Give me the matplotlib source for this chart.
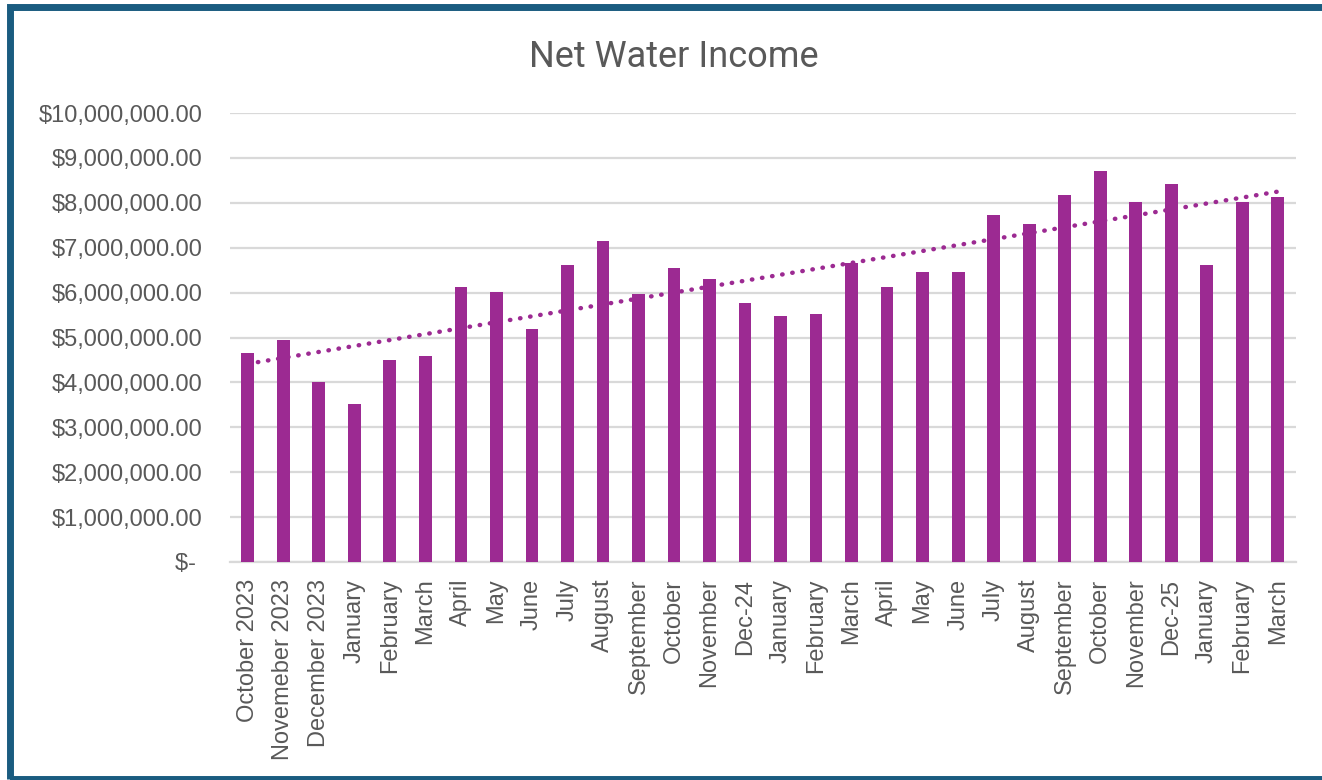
import matplotlib
matplotlib.use('Agg')

import matplotlib.pyplot as plt
import numpy as np
from matplotlib.patches import Rectangle
from matplotlib.ticker import FuncFormatter

months = ["October 2023", "Novemeber 2023", "December 2023", "January", "February", "March",
          "April", "May", "June", "July", "August", "September", "October", "November", "Dec-24",
          "January", "February", "March", "April", "May", "June", "July", "August", "September",
          "October", "November", "Dec-25", "January", "February", "March"]
income = [4.65, 4.95, 4.02, 3.53, 4.50, 4.60, 6.12, 6.02, 5.19, 6.61, 7.14, 5.97, 6.56, 6.31, 5.77,
          5.48, 5.53, 6.66, 6.12, 6.46, 6.46, 7.73, 7.54, 8.17, 8.71, 8.02, 8.42, 6.61, 8.02, 8.12]
income = [v * 1e6 for v in income]

purple = '#9C2A92'
grey = '#595959'

plt.rcParams['font.family'] = ['Liberation Sans', 'DejaVu Sans']

fig = plt.figure(figsize=(13.22, 7.80), dpi=100)
ax = fig.add_axes([0.174, 0.2795, 0.806, 0.5755])

x = np.arange(len(months))
ax.bar(x, income, width=0.36, color=purple, zorder=3)

# linear trendline like excel
k, b = np.polyfit(x, income, 1)
ax.plot(x, k * x + b, color=purple, linestyle=(0, (0.1, 2.2)), linewidth=3.2,
        dash_capstyle='round', zorder=4)

ax.set_xlim(-0.5, len(months) - 0.5)
ax.set_ylim(0, 10e6)
ax.set_yticks(np.arange(0, 10.5e6, 1e6))

def money(v, pos):
    if v == 0:
        return '$- '
    return '${:,.2f}'.format(v)

ax.yaxis.set_major_formatter(FuncFormatter(money))
ax.set_xticks(x)
ax.set_xticklabels(months, rotation=90)
ax.tick_params(axis='both', length=0, labelsize=17, labelcolor=grey)
ax.tick_params(axis='y', pad=20)
ax.tick_params(axis='x', pad=12)

ax.grid(axis='y', color='#d9d9d9', linewidth=1.6, zorder=0)
for s in ['top', 'right', 'left']:
    ax.spines[s].set_visible(False)
ax.spines['bottom'].set_color('#d9d9d9')
ax.spines['bottom'].set_linewidth(1.6)

fig.text(0.51, 0.927, "Net Water Income", ha='center', va='center', fontsize=26,
         color=grey, family=['Roboto', 'DejaVu Sans'])

# dark blue frame, cut off at the right and bottom edge
fig.patches.append(Rectangle((0.0079, 0.0013), 1.0, 0.9897, transform=fig.transFigure,
                             fill=False, edgecolor='#1a5c80', linewidth=5))

plt.savefig("out.png", dpi=100)
